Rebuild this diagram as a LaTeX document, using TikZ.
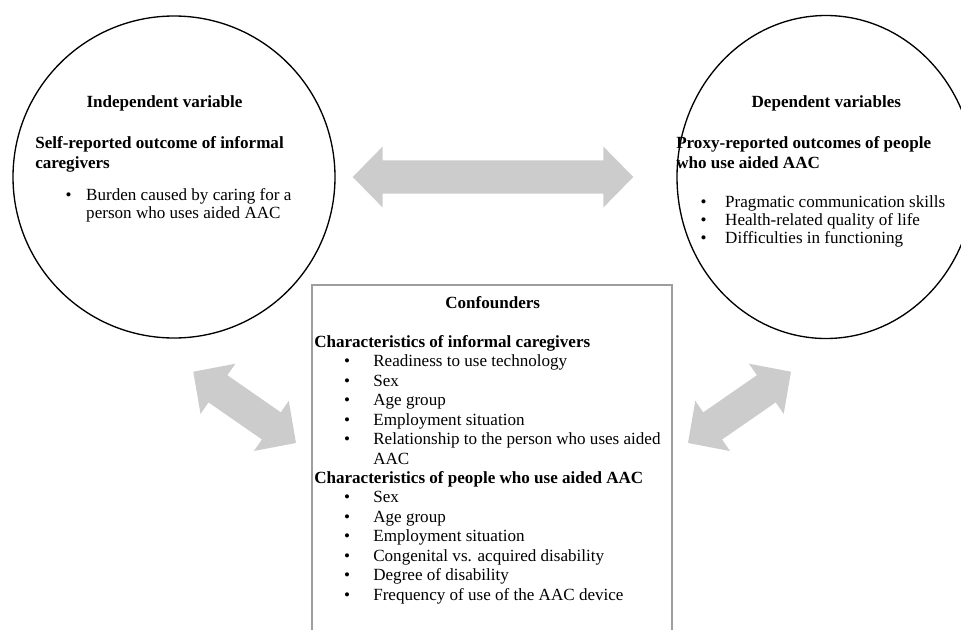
\documentclass[tikz,border=0pt]{standalone}
\usepackage{fontspec}
\setmainfont{Liberation Serif}
\usetikzlibrary{calc}
\newcommand{\cbul}[1]{\hspace*{22.3pt}\makebox[22pt][l]{\textbullet}#1}
\def\fatarrow(#1)(#2){%
	\coordinate (fa1) at ($(#1)!22.5pt!(#2)$);
	\coordinate (fa2) at ($(#2)!22.5pt!(#1)$);
	\fill[arrowfill] (#1) -- ($(fa1)!22.9pt!90:(#2)$) -- ($(fa1)!12.4pt!90:(#2)$)
		-- ($(fa2)!12.4pt!-90:(#1)$) -- ($(fa2)!22.9pt!-90:(#1)$) -- (#2)
		-- ($(fa2)!22.9pt!90:(#1)$) -- ($(fa2)!12.4pt!90:(#1)$)
		-- ($(fa1)!12.4pt!-90:(#2)$) -- ($(fa1)!22.9pt!-90:(#2)$) -- cycle;}
\tikzset{
	ring/.style={line width=1pt, draw=black},
	boxline/.style={line width=0.9pt, draw=black!38},
	arrowfill/.style={fill=black!20},
	txt/.style={inner sep=0pt, font=\fontsize{12.8}{14.6}\selectfont},
	head/.style={inner sep=0pt, font=\fontsize{12.8}{15}\selectfont\bfseries},
	item/.style={inner sep=0pt, font=\fontsize{12.8}{13.5}\selectfont}
}

\begin{document}
\begin{tikzpicture}[x=0.75pt, y=-0.75pt]
	%%%%% START %%%%%
	\useasboundingbox (0,0) rectangle (961,629);
	\clip (0,0) rectangle (961,629);
	
	% independent variable
	\draw[ring] (174,177) circle [radius=161];
	\node[head, anchor=base] (indeptitle) at (164.5,107.2) {Independent variable};
	\node[head, anchor=base west] (indepsub) at (35,148.8) {\begin{tabular}[t]{@{}l@{}}Self-reported outcome of informal\\caregivers\end{tabular}};
	\node[item, anchor=base west] (burden) at (65.3,200.5) {\begin{tabular}[t]{@{}l@{}}\makebox[15.5pt][l]{\textbullet}Burden caused by caring for a\\\hspace*{15.5pt}person who uses aided AAC\end{tabular}};
	
	% dependent variables
	\draw[ring] (826,177) ellipse [x radius=149, y radius=161.5];
	\node[head, anchor=base] (deptitle) at (826.3,107.2) {Dependent variables};
	\node[head, anchor=base west] (depsub) at (676,148.8) {\begin{tabular}[t]{@{}l@{}}Proxy-reported outcomes of people\\who use aided AAC\end{tabular}};
	\node[item, anchor=base west] (outcomes) at (700.3,207.2) {\begin{tabular}[t]{@{}l@{}}\makebox[18.5pt][l]{\textbullet}Pragmatic communication skills\\\makebox[18.5pt][l]{\textbullet}Health-related quality of life\\\makebox[18.5pt][l]{\textbullet}Difficulties in functioning\end{tabular}};
	
	% confounders
	\draw[boxline] (312,285) rectangle (672,640);
	\node[head, anchor=base] (conftitle) at (492.7,308.2) {Confounders};
	\node[txt, anchor=base west] (confbody) at (314,347.2) {\begin{tabular}[t]{@{}l@{}}
		\textbf{Characteristics of informal caregivers}\\
		\cbul{Readiness to use technology}\\
		\cbul{Sex}\\
		\cbul{Age group}\\
		\cbul{Employment situation}\\
		\cbul{Relationship to the person who uses aided}\\
		\hspace*{44.3pt}AAC\\
		\textbf{Characteristics of people who use aided AAC}\\
		\cbul{Sex}\\
		\cbul{Age group}\\
		\cbul{Employment situation}\\
		\cbul{Congenital vs. acquired disability}\\
		\cbul{Degree of disability}\\
		\cbul{Frequency of use of the AAC device}
	\end{tabular}};
	
	% arrows
	\coordinate (ha) at (352.7,177);
	\coordinate (hb) at (633.3,177);
	\coordinate (la) at (193.3,371.7);
	\coordinate (lb) at (296,443);
	\coordinate (ra) at (791,371.7);
	\coordinate (rb) at (688,443);
	\fatarrow(ha)(hb)
	\fatarrow(la)(lb)
	\fatarrow(ra)(rb)
	
	%%%%% END %%%%%
\end{tikzpicture}
\end{document}
